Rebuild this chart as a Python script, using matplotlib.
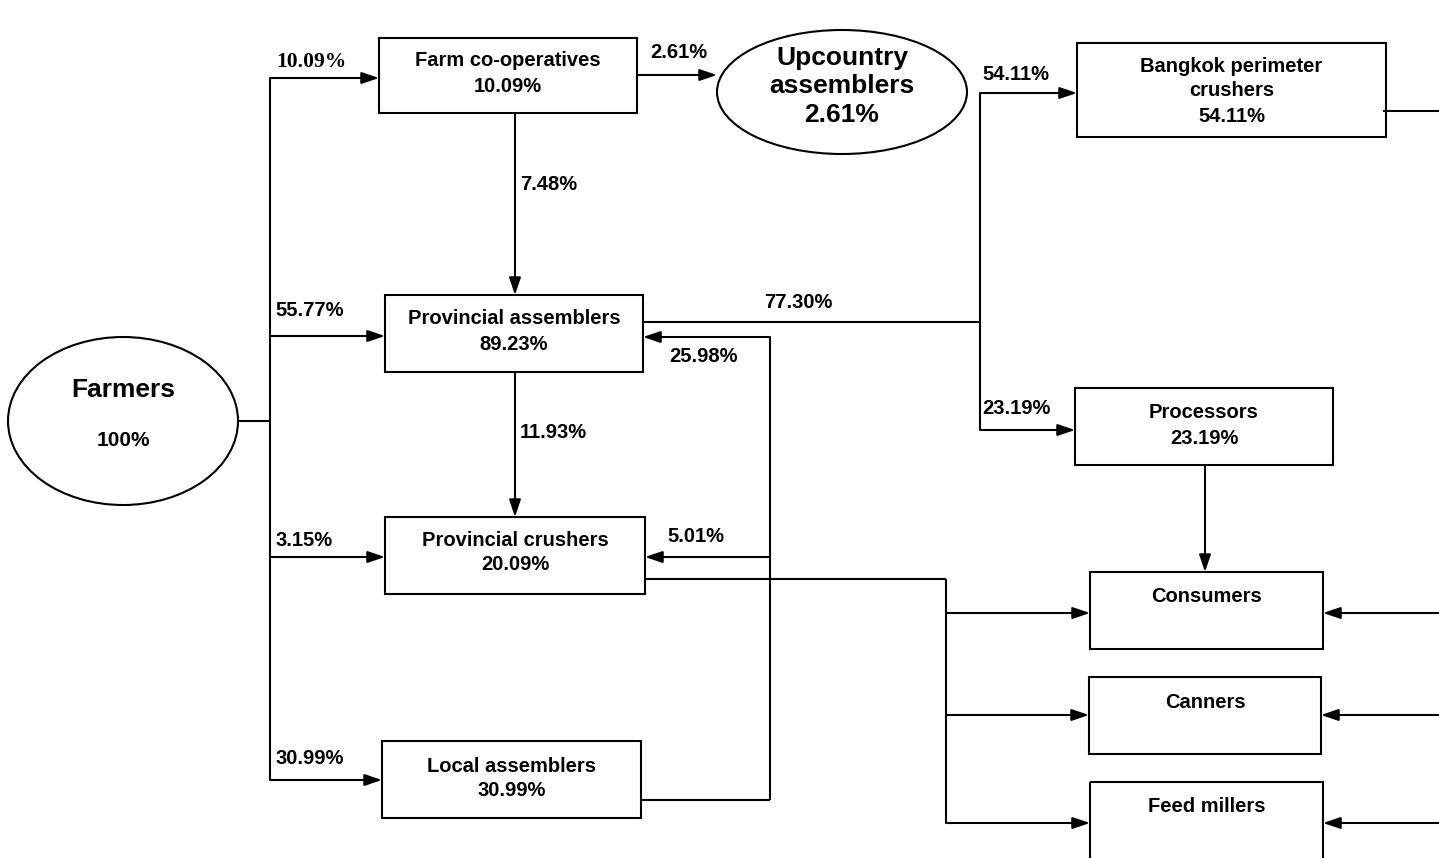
import matplotlib
matplotlib.use("Agg")
import matplotlib.pyplot as plt
from matplotlib.patches import Rectangle, Ellipse

# ---------------- data ----------------
node_names = ["Farmers", "Farm co-operatives", "Upcountry\nassemblers", "Provincial assemblers",
              "Provincial crushers", "Local assemblers", "Bangkok perimeter\ncrushers",
              "Processors", "Consumers", "Canners", "Feed millers"]
node_shares = ["100%", "10.09%", "2.61%", "89.23%", "20.09%", "30.99%", "54.11%",
               "23.19%", "", "", ""]
flow_labels = ["10.09%", "55.77%", "3.15%", "30.99%", "2.61%", "7.48%", "11.93%",
               "77.30%", "54.11%", "23.19%", "25.98%", "5.01%"]

# ---------------- layout (pixel coords) ----------------
W, H = 1439, 858
fig = plt.figure(figsize=(W / 100, H / 100), dpi=100)
ax = fig.add_axes([0, 0, 1, 1])
ax.set_xlim(0, W)
ax.set_ylim(H, 0)
ax.axis("off")

LW = 1.5
FONT = "Liberation Sans"
FS = 14.5


def line(xs, ys):
    ax.plot(xs, ys, color="black", lw=LW, solid_capstyle="butt", solid_joinstyle="miter")


def arrow(x0, y0, x1, y1):
    ax.annotate("", xy=(x1, y1), xytext=(x0, y0),
                arrowprops=dict(arrowstyle="-|>,head_length=0.8,head_width=0.27",
                                lw=LW, color="black", shrinkA=0, shrinkB=0,
                                mutation_scale=13))


def txt(x, y, s, size=FS, family=FONT):
    ax.text(x, y, s, ha="center", va="center", fontsize=size, fontweight="bold",
            family=family, color="black")


def ltxt(x, y, s, size=FS, family=FONT):
    ax.text(x, y, s, ha="left", va="center", fontsize=size, fontweight="bold",
            family=family, color="black")


def box(x0, y0, x1, y1):
    ax.add_patch(Rectangle((x0, y0), x1 - x0, y1 - y0, fill=False, ec="black", lw=LW))


# nodes: boxes (x0, y0, x1, y1, name_y, share_y)
boxes = {
    1: (379, 38, 637, 113, 61, 86),
    3: (385, 295, 643, 372, 319, 345),
    4: (385, 517, 645, 594, 540, 565),
    5: (382, 741, 641, 818, 766, 791),
    6: (1077, 43, 1386, 137, 79, 116),
    7: (1075, 388, 1333, 465, 412, 438),
    8: (1090, 572, 1323, 649, 597, None),
    9: (1089, 677, 1321, 754, 702, None),
    10: (1090, 782, 1323, 870, 807, None),
}
for i, (x0, y0, x1, y1, ny, sy) in boxes.items():
    box(x0, y0, x1, y1)
    cx = (x0 + x1) / 2
    if "\n" in node_names[i]:
        a, b = node_names[i].split("\n")
        txt(cx, ny - 12, a)
        txt(cx, ny + 12, b)
    else:
        txt(cx, ny, node_names[i])
    if sy is not None and node_shares[i]:
        txt(cx, sy, node_shares[i])

# ellipses
ax.add_patch(Ellipse((123, 421), 230, 168, fill=False, ec="black", lw=LW))
txt(123, 390, node_names[0], size=19)
txt(123, 441, node_shares[0], size=15)

ax.add_patch(Ellipse((842, 92), 250, 124, fill=False, ec="black", lw=LW))
u1, u2 = node_names[2].split("\n")
txt(842, 58, u1, size=19)
txt(842, 86, u2, size=19)
txt(842, 115, node_shares[2], size=19)

# ---------------- connectors ----------------
# Farmers trunk
line([238, 270], [421, 421])
line([270, 270], [78, 780])
arrow(270, 78, 379, 78)
arrow(270, 336, 385, 336)
arrow(270, 557, 385, 557)
arrow(270, 780, 382, 780)
ltxt(276, 62, flow_labels[0], size=15.5, family="Liberation Serif")
ltxt(275, 311, flow_labels[1])
ltxt(275, 541, flow_labels[2])
ltxt(275, 759, flow_labels[3])

# Farm co-ops -> upcountry
arrow(637, 75, 717, 75)
ltxt(650, 53, flow_labels[4])
# Farm co-ops -> provincial assemblers
arrow(515, 113, 515, 295)
ltxt(520, 185, flow_labels[5])
# Provincial assemblers -> crushers
arrow(515, 372, 515, 517)
ltxt(520, 433, flow_labels[6])

# Provincial assemblers -> Bangkok / Processors
line([643, 980], [322, 322])
ltxt(764, 303, flow_labels[7])
line([980, 980], [93, 430])
arrow(980, 93, 1077, 93)
ltxt(982, 75, flow_labels[8])
arrow(980, 430, 1075, 430)
ltxt(982, 408, flow_labels[9])

# Bangkok -> right edge
line([1383, W], [111, 111])
# Processors -> consumers
arrow(1205, 465, 1205, 572)

# Local assemblers loop back
line([641, 770], [800, 800])
line([770, 770], [337, 800])
arrow(770, 337, 643, 337)
ltxt(669, 357, flow_labels[10])
arrow(770, 557, 645, 557)
ltxt(667, 537, flow_labels[11])

# Provincial crushers -> end users
line([645, 946], [579, 579])
line([946, 946], [579, 823])
arrow(946, 613, 1090, 613)
arrow(946, 715, 1089, 715)
arrow(946, 823, 1090, 823)

# right side inputs
arrow(W, 613, 1323, 613)
arrow(W, 715, 1321, 715)
arrow(W, 823, 1323, 823)

fig.savefig("out.png", dpi=100, facecolor="white")
